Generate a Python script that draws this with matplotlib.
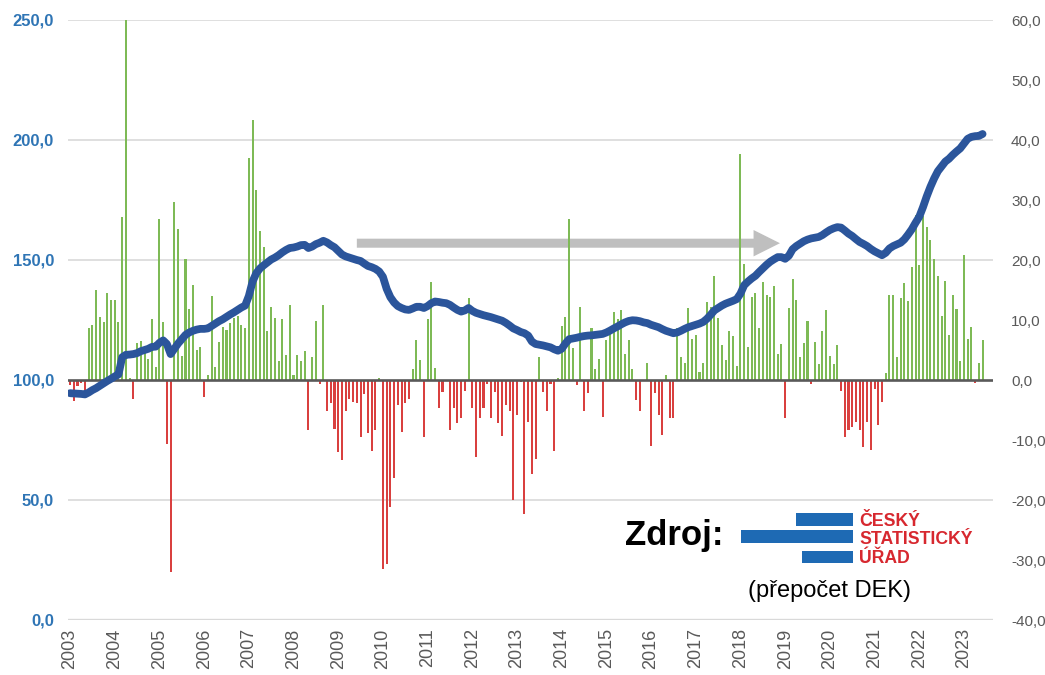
import matplotlib
matplotlib.use('Agg')
import matplotlib.pyplot as plt
from matplotlib.patches import Rectangle

plt.rcParams['font.family'] = ['Liberation Sans', 'DejaVu Sans']

years = [str(y) for y in range(2003, 2024)]

# monthly year-on-year change (right axis), Jan 2003 .. Jun 2023
changes = [
    -0.8, -3.5, -1.0, -0.5, -1.8, 8.6, 9.2, 15.0, 10.5, 9.6, 14.5, 13.4,
    13.4, 9.6, 27.1, 60.0, 0.4, -3.2, 6.1, 6.5, 5.5, 3.5, 10.1, 2.1,
    26.9, 9.6, -10.7, -32.0, 29.6, 25.1, 4.0, 20.2, 11.9, 15.9, 5.0, 5.5,
    -2.8, 0.9, 14.0, 2.1, 6.3, 8.9, 8.3, 9.5, 10.4, 10.7, 9.2, 8.6,
    37.0, 43.4, 31.7, 24.8, 22.2, 8.1, 12.2, 10.4, 3.1, 10.1, 4.2, 12.5,
    0.9, 4.1, 3.2, 4.8, -8.4, 3.8, 9.8, -0.6, 12.5, -5.2, -3.9, -8.1,
    -12.0, -13.4, -5.2, -3.1, -3.7, -3.9, -9.5, -2.4, -8.9, -11.8, -8.3, 0.4,
    -31.5, -30.6, -21.1, -16.3, -4.1, -8.7, -3.8, -3.2, 1.8, 6.7, 3.4, -9.5,
    10.1, 16.3, 2.0, -4.6, -2.0, 0.0, -8.4, -4.7, -7.2, -6.4, -1.8, 13.6,
    -4.6, -12.8, -6.4, -4.7, -0.6, -6.4, -2.0, -7.2, -9.3, -4.1, -5.2, -20.0,
    -5.9, -0.4, -22.4, -7.0, -15.6, -13.1, 3.8, -2.0, -5.2, -0.6, -11.9, 0.4,
    9.0, 10.5, 26.8, 5.4, -0.9, 12.2, -5.1, -2.1, 8.6, 1.8, 3.5, -6.1,
    6.7, 8.3, 11.4, 10.1, 11.7, 4.3, 6.7, 1.8, -3.4, -5.2, 0.0, 2.9,
    -11.0, -2.1, -5.8, -9.2, 0.9, -6.4, -6.4, 8.6, 3.8, 2.9, 12.0, 6.9,
    7.5, 1.3, 2.9, 13.0, 12.2, 17.3, 10.4, 5.8, 3.4, 8.1, 7.3, 2.3,
    37.7, 19.4, 5.5, 13.8, 14.5, 8.7, 16.4, 14.1, 13.8, 15.7, 4.3, 6.0,
    -6.4, 12.0, 16.8, 13.4, 3.8, 6.1, 9.8, -0.6, 6.4, 2.6, 8.1, 11.7,
    4.0, 2.6, 5.8, -1.8, -9.5, -8.3, -7.8, -7.0, -8.3, -11.1, -7.0, -11.6,
    -1.5, -7.5, -3.7, 1.2, 14.1, 14.2, 3.8, 13.6, 16.1, 13.1, 18.9, 27.5,
    19.1, 27.3, 25.5, 23.4, 20.2, 17.4, 10.6, 16.5, 7.5, 14.1, 11.9, 3.1,
    20.8, 6.8, 8.9, -0.5, 2.9, 6.7,
]

# index level (left axis)
index_vals = [
    94.5, 94.4, 94.3, 94.2, 94.0, 94.8, 95.8, 96.6, 97.6, 98.6, 99.6, 100.5,
    101.5, 102.3, 109.5, 110.5, 110.6, 110.8, 111.2, 112.0, 112.5, 113.0, 113.8, 113.9,
    115.5, 116.5, 115.0, 110.8, 113.0, 115.2, 117.0, 118.8, 119.8, 120.5, 121.0, 121.3,
    121.3, 121.5, 122.5, 123.5, 124.5, 125.3, 126.3, 127.3, 128.2, 129.2, 130.2, 131.0,
    135.0, 141.0, 144.5, 146.5, 147.8, 149.0, 150.2, 151.0, 152.0, 153.2, 154.2, 155.0,
    155.2, 155.6, 156.2, 156.3, 155.0, 155.6, 156.6, 157.2, 158.0, 157.3, 156.2, 155.3,
    153.8, 152.3, 151.5, 151.0, 150.5, 150.0, 149.6, 148.5, 147.5, 147.0, 146.3, 145.2,
    143.0, 138.0, 134.5, 132.3, 130.8, 130.0, 129.4, 129.2, 129.8, 130.5, 130.5, 130.0,
    130.8, 132.0, 132.7, 132.5, 132.2, 132.0, 131.3, 130.2, 129.2, 128.5, 129.0, 130.0,
    128.8, 128.0, 127.5, 127.0, 126.6, 126.2, 125.7, 125.2, 124.7, 123.8, 122.7, 121.5,
    120.8, 120.0, 119.5, 118.5, 116.0, 115.0, 114.7, 114.4, 114.0, 113.6, 112.8, 112.2,
    113.0, 115.2, 117.0, 117.3, 117.6, 118.0, 118.3, 118.5, 118.6, 118.8, 119.0, 119.2,
    119.8, 120.6, 121.5, 122.3, 123.2, 124.0, 124.6, 124.9, 124.8, 124.5, 124.0, 123.7,
    123.0, 122.5, 122.0, 121.2, 120.5, 120.0, 119.5, 119.8, 120.5, 121.3, 122.0, 122.5,
    123.0, 123.5, 124.2, 125.5, 127.2, 129.0, 130.0, 131.0, 131.8, 132.4, 133.0, 133.7,
    136.0, 139.5, 141.0, 142.3, 143.4, 145.0, 146.5, 148.0, 149.3, 150.3, 151.2, 151.2,
    150.5, 151.8, 154.5, 155.8, 156.8, 157.8, 158.5, 159.0, 159.3, 159.6, 160.4, 161.5,
    162.5, 163.2, 163.7, 163.5, 162.3, 161.0, 160.0, 158.7, 157.5, 156.7, 155.8, 154.6,
    153.6, 152.8, 152.0, 153.0, 154.8, 155.8, 156.5, 157.2, 158.6, 160.6, 162.8, 165.5,
    168.0, 172.0, 176.5, 180.5, 184.0, 187.0, 189.0, 191.0, 192.2, 193.8, 195.2, 196.5,
    198.5, 200.5, 201.3, 201.6, 201.7, 202.5,
]

left_ticks = [0, 50, 100, 150, 200, 250]
right_ticks = [-40, -30, -20, -10, 0, 10, 20, 30, 40, 50, 60]

W, H = 1045, 675
fig = plt.figure(figsize=(W / 100, H / 100), dpi=100)
L, R, T, B = 68, 993, 20, 620
axb = fig.add_axes([L / W, 1 - B / H, (R - L) / W, (B - T) / H])

n = len(changes)
x = list(range(n))
colors = ['#7EBA56' if v >= 0 else '#D9403F' for v in changes]
axb.bar(x, changes, width=0.55, color=colors, zorder=3, linewidth=0)
axb.set_ylim(-40, 60)
axb.set_xlim(-0.55, 247.8)

for g in [-20, 20, 40, 60]:
    axb.axhline(g, color='#D9D9D9', lw=1.2, zorder=0)
axb.axhline(-40, color='#D9D9D9', lw=2.4, zorder=0)
axb.axhline(0, color='#595959', lw=1.9, zorder=4)

# grey arrow
axb.annotate('', xy=(190.6, 22.8), xytext=(77, 22.8),
             arrowprops=dict(arrowstyle='simple,head_length=19,head_width=19,tail_width=6.5',
                             mutation_scale=1, color='#BFBFBF', lw=0,
                             shrinkA=0, shrinkB=0), zorder=2)

axb.set_xticks(list(range(0, n, 12)))
axb.set_xticklabels(years, rotation=90, fontsize=13, color='#595959')
axb.tick_params(axis='x', length=0, pad=6)

for s in axb.spines.values():
    s.set_visible(False)

axl = axb.twinx()
axl.set_ylim(0, 250)
axl.plot(x, index_vals, color='#2B559B', lw=5.6, solid_capstyle='round',
         solid_joinstyle='round', zorder=5)
for s in axl.spines.values():
    s.set_visible(False)

axb.yaxis.tick_right()
axb.set_yticks(right_ticks)
axb.set_yticklabels([f"{v},0" for v in right_ticks], fontsize=11, color='#595959')
axb.tick_params(axis='y', length=0, pad=13)

axl.yaxis.tick_left()
axl.set_yticks(left_ticks)
axl.set_yticklabels([f"{v},0" for v in left_ticks], fontsize=12,
                    fontweight='bold', color='#2F75B5')
axl.tick_params(axis='y', length=0, pad=10)

# source block
def fx(px):
    return px / W

def fy(py):
    return 1 - py / H

fig.text(fx(625), fy(545), 'Zdroj:', fontsize=25, fontweight='bold', color='black',
         ha='left', va='baseline')
blue = '#1E6AB4'
for (x0, y0, x1, y1) in [(796, 513, 853, 526), (741, 530, 853, 543), (802, 551, 853, 563)]:
    fig.patches.append(Rectangle((fx(x0), fy(y1)), fx(x1) - fx(x0), fy(y0) - fy(y1),
                                 transform=fig.transFigure, color=blue, lw=0))
red = '#D7282F'
fig.text(fx(859), fy(525.5), 'ČESKÝ', fontsize=12.7, fontweight='bold', color=red,
         ha='left', va='baseline')
fig.text(fx(859), fy(543.5), 'STATISTICKÝ', fontsize=12.7, fontweight='bold', color=red,
         ha='left', va='baseline')
fig.text(fx(859), fy(563), 'ÚŘAD', fontsize=12.7, fontweight='bold', color=red,
         ha='left', va='baseline')
fig.text(fx(748), fy(596.5), '(přepočet DEK)', fontsize=17, color='black',
         ha='left', va='baseline')

fig.savefig('out.png', dpi=100)
